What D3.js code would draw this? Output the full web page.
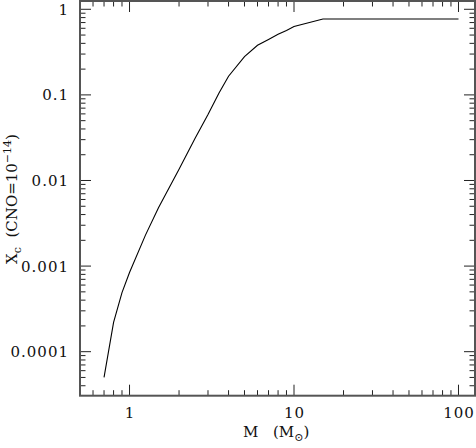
<!DOCTYPE html>
<html>
<head>
<meta charset="utf-8">
<script src="https://cdn.jsdelivr.net/npm/d3@7"></script>
<style>
  body { margin: 0; background: #fff; }
  text { font-family: "DejaVu Serif", serif; fill: #111; }
</style>
</head>
<body>
<div id="chart"></div>
<script>
// stellar mass (solar units) and central abundance X_c
var masses = [0.7, 0.8, 0.9, 1, 1.25, 1.5, 2, 2.5, 3, 3.5, 4, 5, 6, 7, 8, 9, 10, 15, 20, 30, 50, 70, 100];
var xc = [5e-5, 2.2e-4, 4.9e-4, 8.4e-4, 2.3e-3, 4.8e-3, 0.0135, 0.031, 0.059, 0.105, 0.165, 0.28, 0.38, 0.445, 0.51, 0.565, 0.63, 0.77, 0.77, 0.77, 0.77, 0.77, 0.77];
var yMajor = [1, 0.1, 0.01, 0.001, 0.0001];
var yLabels = ["1", "0.1", "0.01", "0.001", "0.0001"];
var xMajor = [1, 10, 100];
var xLabels = ["1", "10", "100"];

var w = 476, h = 448;
var box = {left: 80, right: 475, top: 1, bottom: 395.7};

var svg = d3.select("#chart").append("svg")
    .attr("width", w)
    .attr("height", h);

var x = d3.scaleLog().domain([0.5, 126]).range([box.left, box.right]);
var y = d3.scaleLog().domain([3.06e-5, 1.25]).range([box.bottom, box.top]);

function isMajor(v) {
    var l = Math.log10(v);
    return Math.abs(l - Math.round(l)) < 1e-6;
}

//ticks on all four sides, pointing in
var g = svg.append("g").attr("stroke", "#222").attr("stroke-width", 1);
x.ticks().forEach(function(t) {
    var px = x(t), len = isMajor(t) ? 11 : 5.5;
    g.append("line").attr("x1", px).attr("x2", px).attr("y1", box.bottom).attr("y2", box.bottom - len);
    g.append("line").attr("x1", px).attr("x2", px).attr("y1", box.top).attr("y2", box.top + len);
});
y.ticks().forEach(function(t) {
    var py = y(t), len = isMajor(t) ? 11 : 5.5;
    g.append("line").attr("y1", py).attr("y2", py).attr("x1", box.left).attr("x2", box.left + len);
    g.append("line").attr("y1", py).attr("y2", py).attr("x1", box.right).attr("x2", box.right - len);
});

// frame
svg.append("rect")
    .attr("x", box.left).attr("y", box.top)
    .attr("width", box.right - box.left).attr("height", box.bottom - box.top)
    .attr("fill", "none").attr("stroke", "#555").attr("stroke-width", 2);

// tick labels
svg.selectAll("text.ylab").data(yMajor).enter().append("text")
    .attr("class", "ylab")
    .attr("x", 69)
    .attr("y", function(d) { return y(d) + 5.5; })
    .attr("text-anchor", "end")
    .style("font-size", "15px")
    .style("letter-spacing", "1px")
    .text(function(d, i) { return yLabels[i]; });

svg.selectAll("text.xlab").data(xMajor).enter().append("text")
    .attr("class", "xlab")
    .attr("x", function(d) { return x(d) + 0.5; })
    .attr("y", 418)
    .attr("text-anchor", "middle")
    .style("font-size", "15px")
    .style("letter-spacing", "1px")
    .text(function(d, i) { return xLabels[i]; });

// axis titles
svg.append("text").attr("x", 243).attr("y", 437).style("font-size", "15px").text("M");
var xt = svg.append("text").attr("x", 273).attr("y", 437).style("font-size", "15px");
xt.append("tspan").text("(M");
xt.append("tspan").attr("dy", 4).style("font-size", "11px").text("\u2299");
xt.append("tspan").attr("dy", -4).text(")");

var yt = svg.append("text")
    .attr("transform", "translate(17,199) rotate(-90)")
    .attr("text-anchor", "middle")
    .style("font-size", "15px");
yt.append("tspan").text("X");
yt.append("tspan").attr("dy", 4).style("font-size", "11px").text("c");
yt.append("tspan").attr("dy", -4).text("\u00a0\u00a0(CNO=10");
yt.append("tspan").attr("dy", -6).style("font-size", "11px").text("\u221214");
yt.append("tspan").attr("dy", 6).text(")");

// the curve
var line = d3.line()
    .x(function(d) { return x(d[0]); })
    .y(function(d) { return y(d[1]); });

svg.append("path")
    .datum(d3.zip(masses, xc))
    .attr("d", line)
    .attr("fill", "none")
    .attr("stroke", "#000")
    .attr("stroke-width", 1.1);
</script>
</body>
</html>
